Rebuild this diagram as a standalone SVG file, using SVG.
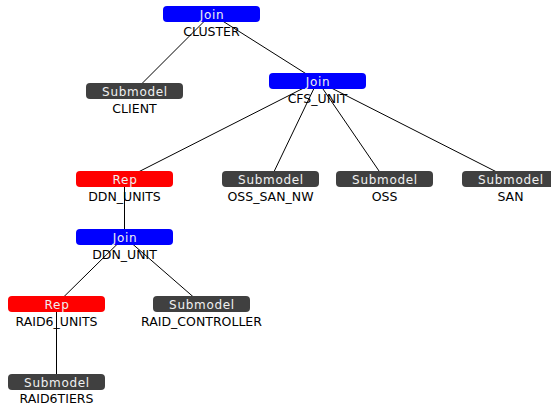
<svg xmlns="http://www.w3.org/2000/svg" width="551" height="406" viewBox="0 0 551 406">
<style>
.b{stroke:none}
.join{fill:#0000ff}
.rep{fill:#ff0000}
.sub{fill:#404040}
.t{font-family:"DejaVu Sans",sans-serif;font-size:12px;fill:#f0f0f0;text-anchor:middle;letter-spacing:0.7px}
.l{font-family:"DejaVu Sans",sans-serif;font-size:12.5px;fill:#000000;text-anchor:middle}
.c line{stroke:#000;stroke-width:1}
</style>
<rect width="551" height="406" fill="#ffffff"/>
<g id="connectors" class="c">
<line x1="211.5" y1="14" x2="134.5" y2="91"/>
<line x1="211.5" y1="14" x2="317.5" y2="81"/>
<line x1="317.5" y1="81" x2="124.5" y2="179"/>
<line x1="317.5" y1="81" x2="270.5" y2="179"/>
<line x1="317.5" y1="81" x2="384.5" y2="179"/>
<line x1="317.5" y1="81" x2="510.5" y2="179"/>
<line x1="124.5" y1="179" x2="124.5" y2="237"/>
<line x1="124.5" y1="237" x2="56.5" y2="304"/>
<line x1="124.5" y1="237" x2="201.5" y2="304"/>
<line x1="56.5" y1="304" x2="56.5" y2="382"/>
</g>
<g id="cluster"><rect class="join" x="163" y="6" width="97" height="16" rx="4"/><text class="t" x="212" y="18.5">Join</text><text class="l" x="211.5" y="35.5">CLUSTER</text></g>
<g id="client"><rect class="sub" x="86" y="83" width="97" height="16" rx="4"/><text class="t" x="135" y="95.5">Submodel</text><text class="l" x="134.5" y="112.5">CLIENT</text></g>
<g id="cfs_unit"><rect class="join" x="269" y="73" width="97" height="16" rx="4"/><text class="t" x="318" y="85.5">Join</text><text class="l" x="317.5" y="102.5">CFS_UNIT</text></g>
<g id="ddn_units"><rect class="rep" x="76" y="171" width="97" height="16" rx="4"/><text class="t" x="125" y="183.5">Rep</text><text class="l" x="124.5" y="200.5">DDN_UNITS</text></g>
<g id="oss_san_nw"><rect class="sub" x="222" y="171" width="97" height="16" rx="4"/><text class="t" x="271" y="183.5">Submodel</text><text class="l" x="270.5" y="200.5">OSS_SAN_NW</text></g>
<g id="oss"><rect class="sub" x="336" y="171" width="97" height="16" rx="4"/><text class="t" x="385" y="183.5">Submodel</text><text class="l" x="384.5" y="200.5">OSS</text></g>
<g id="san"><rect class="sub" x="462" y="171" width="97" height="16" rx="4"/><text class="t" x="511" y="183.5">Submodel</text><text class="l" x="510.5" y="200.5">SAN</text></g>
<g id="ddn_unit"><rect class="join" x="76" y="229" width="97" height="16" rx="4"/><text class="t" x="125" y="241.5">Join</text><text class="l" x="124.5" y="258.5">DDN_UNIT</text></g>
<g id="raid6_units"><rect class="rep" x="8" y="296" width="97" height="16" rx="4"/><text class="t" x="57" y="308.5">Rep</text><text class="l" x="56.5" y="325.5">RAID6_UNITS</text></g>
<g id="raid_controller"><rect class="sub" x="153" y="296" width="97" height="16" rx="4"/><text class="t" x="202" y="308.5">Submodel</text><text class="l" x="201.5" y="325.5">RAID_CONTROLLER</text></g>
<g id="raid6tiers"><rect class="sub" x="8" y="374" width="97" height="16" rx="4"/><text class="t" x="57" y="386.5">Submodel</text><text class="l" x="56.5" y="403">RAID6TIERS</text></g>
</svg>
